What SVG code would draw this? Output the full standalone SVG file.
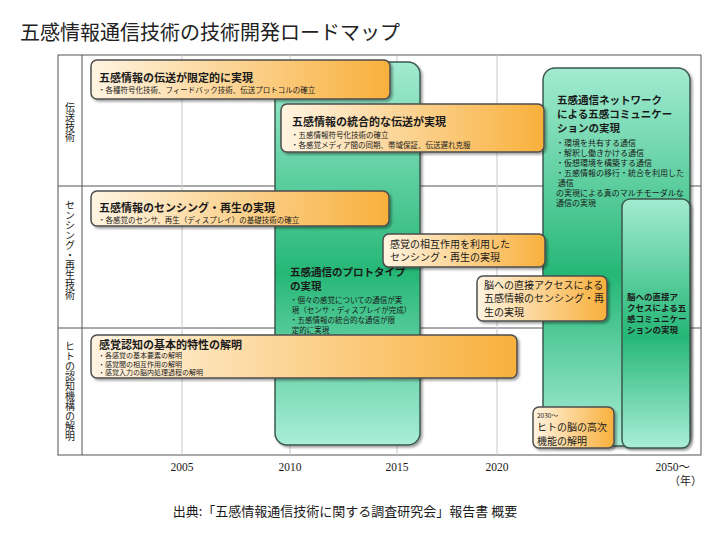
<svg xmlns="http://www.w3.org/2000/svg" width="720" height="540" viewBox="0 0 720 540">
<style>
text{font-family:"Noto Sans CJK JP","Noto Sans CJK SC",sans-serif;fill:#1a1a1a}
.title{font-size:20px;fill:#222}
.row{font-size:10px;writing-mode:vertical-rl;text-orientation:upright}
.yr{font-family:"Liberation Serif","Noto Sans CJK JP",serif;font-size:11.5px}
.cap{font-size:13px}
.ob{fill:url(#og);stroke:#4d4d4d;stroke-width:1.5;filter:url(#sh)}
.gb{fill:url(#gg);stroke:#3b5a4c;stroke-width:1.5;filter:url(#sh)}
.h{font-size:11px;font-weight:bold}
.h2{font-size:10px}
.s{font-size:7.5px;font-weight:normal}
.grid{stroke:#c8c8c8;stroke-width:1}
.frame{fill:none;stroke:#555;stroke-width:1}
</style>
<defs>
<linearGradient id="og" x1="0" y1="0" x2="1" y2="0">
<stop offset="0" stop-color="#fff4e2"/>
<stop offset="1" stop-color="#f8b03c"/>
</linearGradient>
<linearGradient id="gg" x1="0" y1="0" x2="0" y2="1">
<stop offset="0" stop-color="#a3ebd2"/>
<stop offset="0.55" stop-color="#25b776"/>
<stop offset="1" stop-color="#aaeed9"/>
</linearGradient>
<filter id="sh" x="-10%" y="-10%" width="130%" height="130%">
<feDropShadow dx="2" dy="2" stdDeviation="1" flood-color="#000" flood-opacity="0.35"/>
</filter>
</defs>
<rect width="720" height="540" fill="#fff"/>
<text class="title" x="20" y="40">五感情報通信技術の技術開発ロードマップ</text>

<g id="grid">
<rect class="frame" x="58" y="55" width="643" height="400"/>
<line x1="82" y1="55" x2="82" y2="455" stroke="#555"/>
<line x1="58" y1="186" x2="701" y2="186" stroke="#555"/>
<line x1="58" y1="328" x2="701" y2="328" stroke="#555"/>
<line class="grid" x1="182" y1="55" x2="182" y2="455"/>
<line class="grid" x1="290" y1="55" x2="290" y2="455"/>
<line class="grid" x1="397" y1="55" x2="397" y2="455"/>
<line class="grid" x1="497" y1="55" x2="497" y2="455"/>
</g>

<g id="row-labels">
<text class="row" x="70" y="122" text-anchor="middle">伝送技術</text>
<text class="row" x="70" y="250" text-anchor="middle">センシング・再生技術</text>
<text class="row" x="70" y="391" text-anchor="middle">ヒトの認知機構の解明</text>
</g>

<g id="green-prototype">
<rect class="gb" x="275" y="62" width="145" height="383" rx="12"/>
<text class="h" style="font-size:10.5px"><tspan x="290" y="276">五感通信のプロトタイプ</tspan><tspan x="290" y="290">の実現</tspan><tspan class="s" x="290" y="302.5">・個々の感覚についての通信が実</tspan><tspan class="s" x="290" y="312.5">  現（センサ・ディスプレイが完成）</tspan><tspan class="s" x="290" y="322.5">・五感情報の統合的な通信が限</tspan><tspan class="s" x="290" y="332.5">  定的に実現</tspan></text>
</g>

<g id="green-network">
<rect class="gb" x="543" y="68" width="147" height="378" rx="12"/>
<text class="h" style="font-size:10.5px"><tspan x="557" y="104">五感通信ネットワーク</tspan><tspan x="557" y="118">による五感コミュニケー</tspan><tspan x="557" y="132">ションの実現</tspan><tspan class="s" style="font-size:8px" x="556" y="145.5">・環境を共有する通信</tspan><tspan class="s" style="font-size:8px" x="556" y="155.5">・解釈し働きかける通信</tspan><tspan class="s" style="font-size:8px" x="556" y="165.5">・仮想環境を構築する通信</tspan><tspan class="s" style="font-size:8px" x="556" y="175.5">・五感情報の移行・統合を利用した</tspan><tspan class="s" style="font-size:8px" x="556" y="185.5">  通信</tspan><tspan class="s" style="font-size:8px" x="556" y="195.5">の実現による真のマルチモーダルな</tspan><tspan class="s" style="font-size:8px" x="556" y="205.5">通信の実現</tspan></text>
</g>

<g id="green-brain">
<rect class="gb" x="622" y="199" width="68" height="249" rx="8"/>
<text class="h" style="font-size:8.5px"><tspan x="627" y="300">脳への直接ア</tspan><tspan x="627" y="311">クセスによる五</tspan><tspan x="627" y="322">感コミュニケー</tspan><tspan x="627" y="333">ションの実現</tspan></text>
</g>

<g id="box-transmission-limited">
<rect class="ob" x="91" y="60" width="299" height="39" rx="6"/>
<text class="h"><tspan x="99" y="81.5">五感情報の伝送が限定的に実現</tspan><tspan class="s" x="98" y="93">・各種符号化技術、フィードバック技術、伝送プロトコルの確立</tspan></text>
</g>

<g id="box-transmission-integrated">
<rect class="ob" x="281" y="104" width="263" height="48" rx="6"/>
<text class="h"><tspan x="292" y="125.5">五感情報の統合的な伝送が実現</tspan><tspan class="s" x="291" y="137.5">・五感情報符号化技術の確立</tspan><tspan class="s" x="291" y="147.5">・各感覚メディア間の同期、帯域保証、伝送遅れ克服</tspan></text>
</g>

<g id="box-sensing">
<rect class="ob" x="91" y="191" width="298" height="35" rx="6"/>
<text class="h"><tspan x="99" y="212">五感情報のセンシング・再生の実現</tspan><tspan class="s" x="98" y="223">・各感覚のセンサ、再生（ディスプレイ）の基礎技術の確立</tspan></text>
</g>

<g id="box-interaction">
<rect class="ob" x="383" y="234" width="162" height="33" rx="6"/>
<text class="h2"><tspan x="390" y="247.5">感覚の相互作用を利用した</tspan><tspan x="390" y="261.2">センシング・再生の実現</tspan></text>
</g>

<g id="box-brain-sensing">
<rect class="ob" x="477" y="276" width="130" height="45" rx="6"/>
<text class="h2"><tspan x="484" y="288.5">脳への直接アクセスによる</tspan><tspan x="484" y="302.2">五感情報のセンシング・再</tspan><tspan x="484" y="315.9">生の実現</tspan></text>
</g>

<g id="box-cognition">
<rect class="ob" x="91" y="335" width="426" height="43" rx="6"/>
<text class="h"><tspan x="99" y="348.5">感覚認知の基本的特性の解明</tspan><tspan class="s" style="font-size:7px" x="98" y="358.2">・各感覚の基本要素の解明</tspan><tspan class="s" style="font-size:7px" x="98" y="366.8">・感覚間の相互作用の解明</tspan><tspan class="s" style="font-size:7px" x="98" y="375.4">・感覚入力の脳内処理過程の解明</tspan></text>
</g>

<g id="box-higher-brain">
<rect class="ob" x="533" y="407" width="81" height="41" rx="6"/>
<text class="h2"><tspan x="537" y="417.5" style="font-size:6.5px">2030〜</tspan><tspan x="537" y="431">ヒトの脳の高次</tspan><tspan x="537" y="444.7">機能の解明</tspan></text>
</g>

<g id="axis">
<text class="yr" x="182" y="471" text-anchor="middle">2005</text>
<text class="yr" x="290" y="471" text-anchor="middle">2010</text>
<text class="yr" x="397" y="471" text-anchor="middle">2015</text>
<text class="yr" x="497" y="471" text-anchor="middle">2020</text>
<text class="yr" x="690" y="471" text-anchor="end">2050〜</text>
<text x="702" y="485" text-anchor="end" style="font-size:11px">（年）</text>
</g>

<text class="cap" x="345" y="516" text-anchor="middle">出典:「五感情報通信技術に関する調査研究会」報告書 概要</text>
</svg>
